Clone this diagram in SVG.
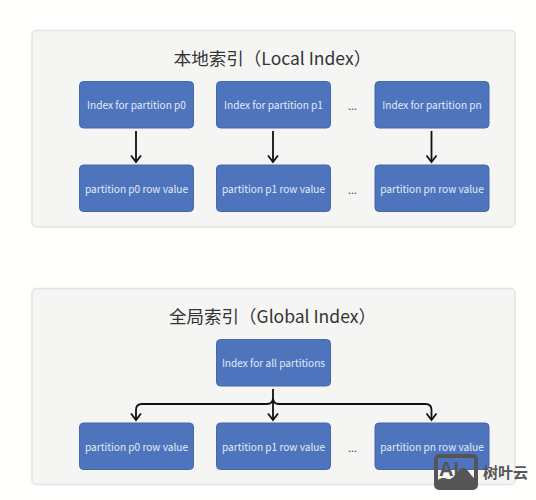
<svg xmlns="http://www.w3.org/2000/svg" width="536" height="500" viewBox="0 0 536 500">
<style>
.panel{fill:#f5f5f4;stroke:#e4e4e2;stroke-width:1.5}
.box{fill:#4e74bd;stroke:#4568ab;stroke-width:1}
.t{font-family:"Noto Sans CJK SC","Noto Sans",sans-serif;font-size:10.100px;fill:#e3ebf7;text-anchor:middle}
.h{font-family:"Noto Sans CJK SC","Noto Sans",sans-serif;font-size:17.500px;fill:#333;text-anchor:middle}
.d{font-family:"Noto Sans CJK SC","Noto Sans",sans-serif;font-size:11px;fill:#444;text-anchor:middle}
.c{fill:none;stroke:#111;stroke-width:1.8}
.a{fill:none;stroke:#111;stroke-width:1.8}
</style>
<rect width="536" height="500" fill="#fffffd"/>
<g id="panel-local"><rect class="panel" x="32" y="30.500" width="483" height="196.500" rx="4"/><text class="h" x="272.500" y="64.500">本地索引（Local Index）</text></g>
<g id="panel-global"><rect class="panel" x="32" y="288.500" width="483" height="196" rx="4"/><text class="h" x="272.500" y="322.500">全局索引（Global Index）</text></g>
<g id="connectors">
<path class="c" d="M136 131V161M273 131V161M431.500 131V161"/>
<path class="a" d="M131 155.500L136 162L141 155.500M268 155.500L273 162L278 155.500M426.500 155.500L431.500 162L436.500 155.500"/>
<path class="c" d="M273 389V419M273 398C273 402 271 404 267 404H142C138 404 136 406 136 410V419M273 398C273 402 275 404 279 404H425.500C429.500 404 431.500 406 431.500 410V419"/>
<path class="a" d="M131 413.500L136 420L141 413.500M268 413.500L273 420L278 413.500M426.500 413.500L431.500 420L436.500 413.500"/>
</g>
<g id="n-idx-p0"><rect class="box" x="79.500" y="81.500" width="114" height="46.500" rx="4"/><text class="t" x="136.500" y="109">Index for partition p0</text></g>
<g id="n-idx-p1"><rect class="box" x="216.500" y="81.500" width="114" height="46.500" rx="4"/><text class="t" x="273.500" y="109">Index for partition p1</text></g>
<g id="n-idx-pn"><rect class="box" x="375" y="81.500" width="114" height="46.500" rx="4"/><text class="t" x="432" y="109">Index for partition pn</text></g>
<g id="n-row-p0"><rect class="box" x="79.500" y="165" width="114" height="46.500" rx="4"/><text class="t" x="136.500" y="193">partition p0 row value</text></g>
<g id="n-row-p1"><rect class="box" x="216.500" y="165" width="114" height="46.500" rx="4"/><text class="t" x="273.500" y="193">partition p1 row value</text></g>
<g id="n-row-pn"><rect class="box" x="375" y="165" width="114" height="46.500" rx="4"/><text class="t" x="432" y="193">partition pn row value</text></g>
<text class="d" x="352.500" y="110">...</text>
<text class="d" x="352.500" y="194">...</text>
<g id="n-idx-all"><rect class="box" x="216.500" y="339.500" width="114" height="46.500" rx="4"/><text class="t" x="273.500" y="367">Index for all partitions</text></g>
<g id="n-grow-p0"><rect class="box" x="79.500" y="423" width="114" height="46.500" rx="4"/><text class="t" x="136.500" y="451">partition p0 row value</text></g>
<g id="n-grow-p1"><rect class="box" x="216.500" y="423" width="114" height="46.500" rx="4"/><text class="t" x="273.500" y="451">partition p1 row value</text></g>
<g id="n-grow-pn"><rect class="box" x="375" y="423" width="114" height="46.500" rx="4"/><text class="t" x="432" y="451">partition pn row value</text></g>
<text class="d" x="352.500" y="452">...</text>
<g id="watermark">
<path d="M438 487V480C442 477 445 478 448 479C452 480 455 475 458 471C460 468 463 467 466 469C469 471 471 476 474 478V487Z" fill="#555"/>
<rect x="436" y="456" width="40" height="32" rx="3" fill="none" stroke="#555" stroke-width="4"/>
<text x="439" y="476" font-family="Liberation Sans,sans-serif" font-size="20" font-weight="700" fill="#555">AI</text>
<text x="483" y="478" font-family="Noto Sans CJK SC,sans-serif" font-size="15" font-weight="700" fill="#555">树叶云</text>
</g>
</svg>
